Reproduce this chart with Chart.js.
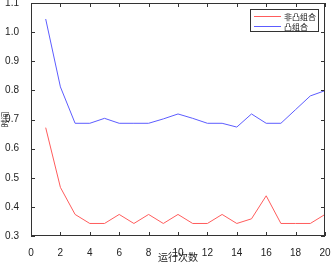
<!DOCTYPE html>
<html>
<head>
<meta charset="utf-8">
<script src="https://cdn.jsdelivr.net/npm/chart.js@4.4.0/dist/chart.umd.min.js"></script>
<style>
    html, body { margin: 0; padding: 0; background: #fff; }
    #wrap { width: 331px; height: 264px; }
</style>
</head>
<body>
<div id="wrap"><canvas id="chart"></canvas></div>
<script>
const runs = [1, 2, 3, 4, 5, 6, 7, 8, 9, 10, 11, 12, 13, 14, 15, 16, 17, 18, 19, 20];
const nonConvex = [0.672, 0.467, 0.374, 0.343, 0.343, 0.374, 0.343, 0.374, 0.343, 0.374,
    0.343, 0.343, 0.374, 0.343, 0.359, 0.438, 0.343, 0.343, 0.343, 0.374];
const convex = [1.045, 0.812, 0.687, 0.687, 0.704, 0.687, 0.687, 0.687, 0.702, 0.719,
    0.704, 0.687, 0.687, 0.674, 0.719, 0.687, 0.687, 0.734, 0.781, 0.799];
const seriesNames = ["非凸组合", "凸组合"];
const seriesColors = ["#ff5c5c", "#5c5cff"];

const axisColor = "#333333";
const numFont = { family: "'Liberation Sans', Arial, sans-serif", size: 10 };
const cjkFont = { family: "'Noto Sans CJK SC', sans-serif", size: 10 };
const smallCjk = { family: "'Noto Sans CJK SC', sans-serif", size: 8 };

const toPoints = (ys) => runs.map((x, i) => ({ x: x, y: ys[i] }));

// box around the plot, inward ticks on all sides, legend in the corner
const boxPlugin = {
    id: "boxPlugin",
    afterDraw(chart) {
        const ctx = chart.ctx;
        const a = chart.chartArea;
        const xs = chart.scales.x;
        const ys = chart.scales.y;
        const len = 4;

        ctx.save();
        ctx.strokeStyle = axisColor;
        ctx.lineWidth = 1;
        ctx.strokeRect(Math.round(a.left) + 0.5, Math.round(a.top) + 0.5,
            Math.round(a.right - a.left) - 1, Math.round(a.bottom - a.top) - 1);

        ctx.beginPath();
        xs.ticks.forEach((t) => {
            const px = Math.round(xs.getPixelForValue(t.value)) + 0.5;
            ctx.moveTo(px, a.bottom);
            ctx.lineTo(px, a.bottom - len);
            ctx.moveTo(px, a.top);
            ctx.lineTo(px, a.top + len);
        });
        ys.ticks.forEach((t) => {
            const py = Math.round(ys.getPixelForValue(t.value)) + 0.5;
            ctx.moveTo(a.left, py);
            ctx.lineTo(a.left + len, py);
            ctx.moveTo(a.right, py);
            ctx.lineTo(a.right - len, py);
        });
        ctx.stroke();

        // legend
        const lx = 250.5, ly = 9.5, lw = 68, lh = 22;
        ctx.fillStyle = "#fff";
        ctx.fillRect(lx, ly, lw, lh);
        ctx.strokeStyle = axisColor;
        ctx.strokeRect(lx, ly, lw, lh);
        ctx.font = smallCjk.size + "px " + smallCjk.family;
        ctx.textBaseline = "middle";
        chart.data.datasets.forEach((ds, i) => {
            const y = 16.5 + i * 10;
            ctx.strokeStyle = ds.borderColor;
            ctx.beginPath();
            ctx.moveTo(254, y);
            ctx.lineTo(281, y);
            ctx.stroke();
            ctx.fillStyle = "#111";
            ctx.fillText(ds.label, 284, y);
        });
        ctx.restore();
    },
};

new Chart(document.getElementById("chart"), {
    type: "line",
    data: {
        datasets: [
            {
                label: seriesNames[0],
                data: toPoints(nonConvex),
                borderColor: seriesColors[0],
                borderWidth: 1,
                pointRadius: 0,
                tension: 0,
            },
            {
                label: seriesNames[1],
                data: toPoints(convex),
                borderColor: seriesColors[1],
                borderWidth: 1,
                pointRadius: 0,
                tension: 0,
            },
        ],
    },
    options: {
        responsive: true,
        maintainAspectRatio: false,
        animation: false,
        layout: { padding: { top: 3, right: 6, left: 0, bottom: 0 } },
        plugins: {
            legend: { display: false },
            tooltip: { enabled: false },
        },
        scales: {
            x: {
                type: "linear",
                min: 0,
                max: 20,
                ticks: { stepSize: 2, color: "#222", font: numFont, padding: 3, maxRotation: 0 },
                grid: { display: false },
                border: { display: false },
                title: { display: true, text: "运行次数", color: "#222", font: cjkFont, padding: { top: 1, bottom: 1 } },
                afterFit(scale) {
                    scale.height = 28;
                    scale.paddingLeft = 0;
                    scale.paddingRight = 0;
                },
            },
            y: {
                min: 0.3,
                max: 1.1,
                ticks: { stepSize: 0.1, color: "#222", font: numFont, padding: 4 },
                grid: { display: false },
                border: { display: false },
                title: { display: true, text: "时间", color: "#222", font: smallCjk, padding: { top: 0, bottom: 0 } },
                afterFit(scale) {
                    scale.width = 31;
                    scale.paddingTop = 0;
                    scale.paddingBottom = 0;
                },
            },
        },
    },
    plugins: [boxPlugin],
});
</script>
</body>
</html>
